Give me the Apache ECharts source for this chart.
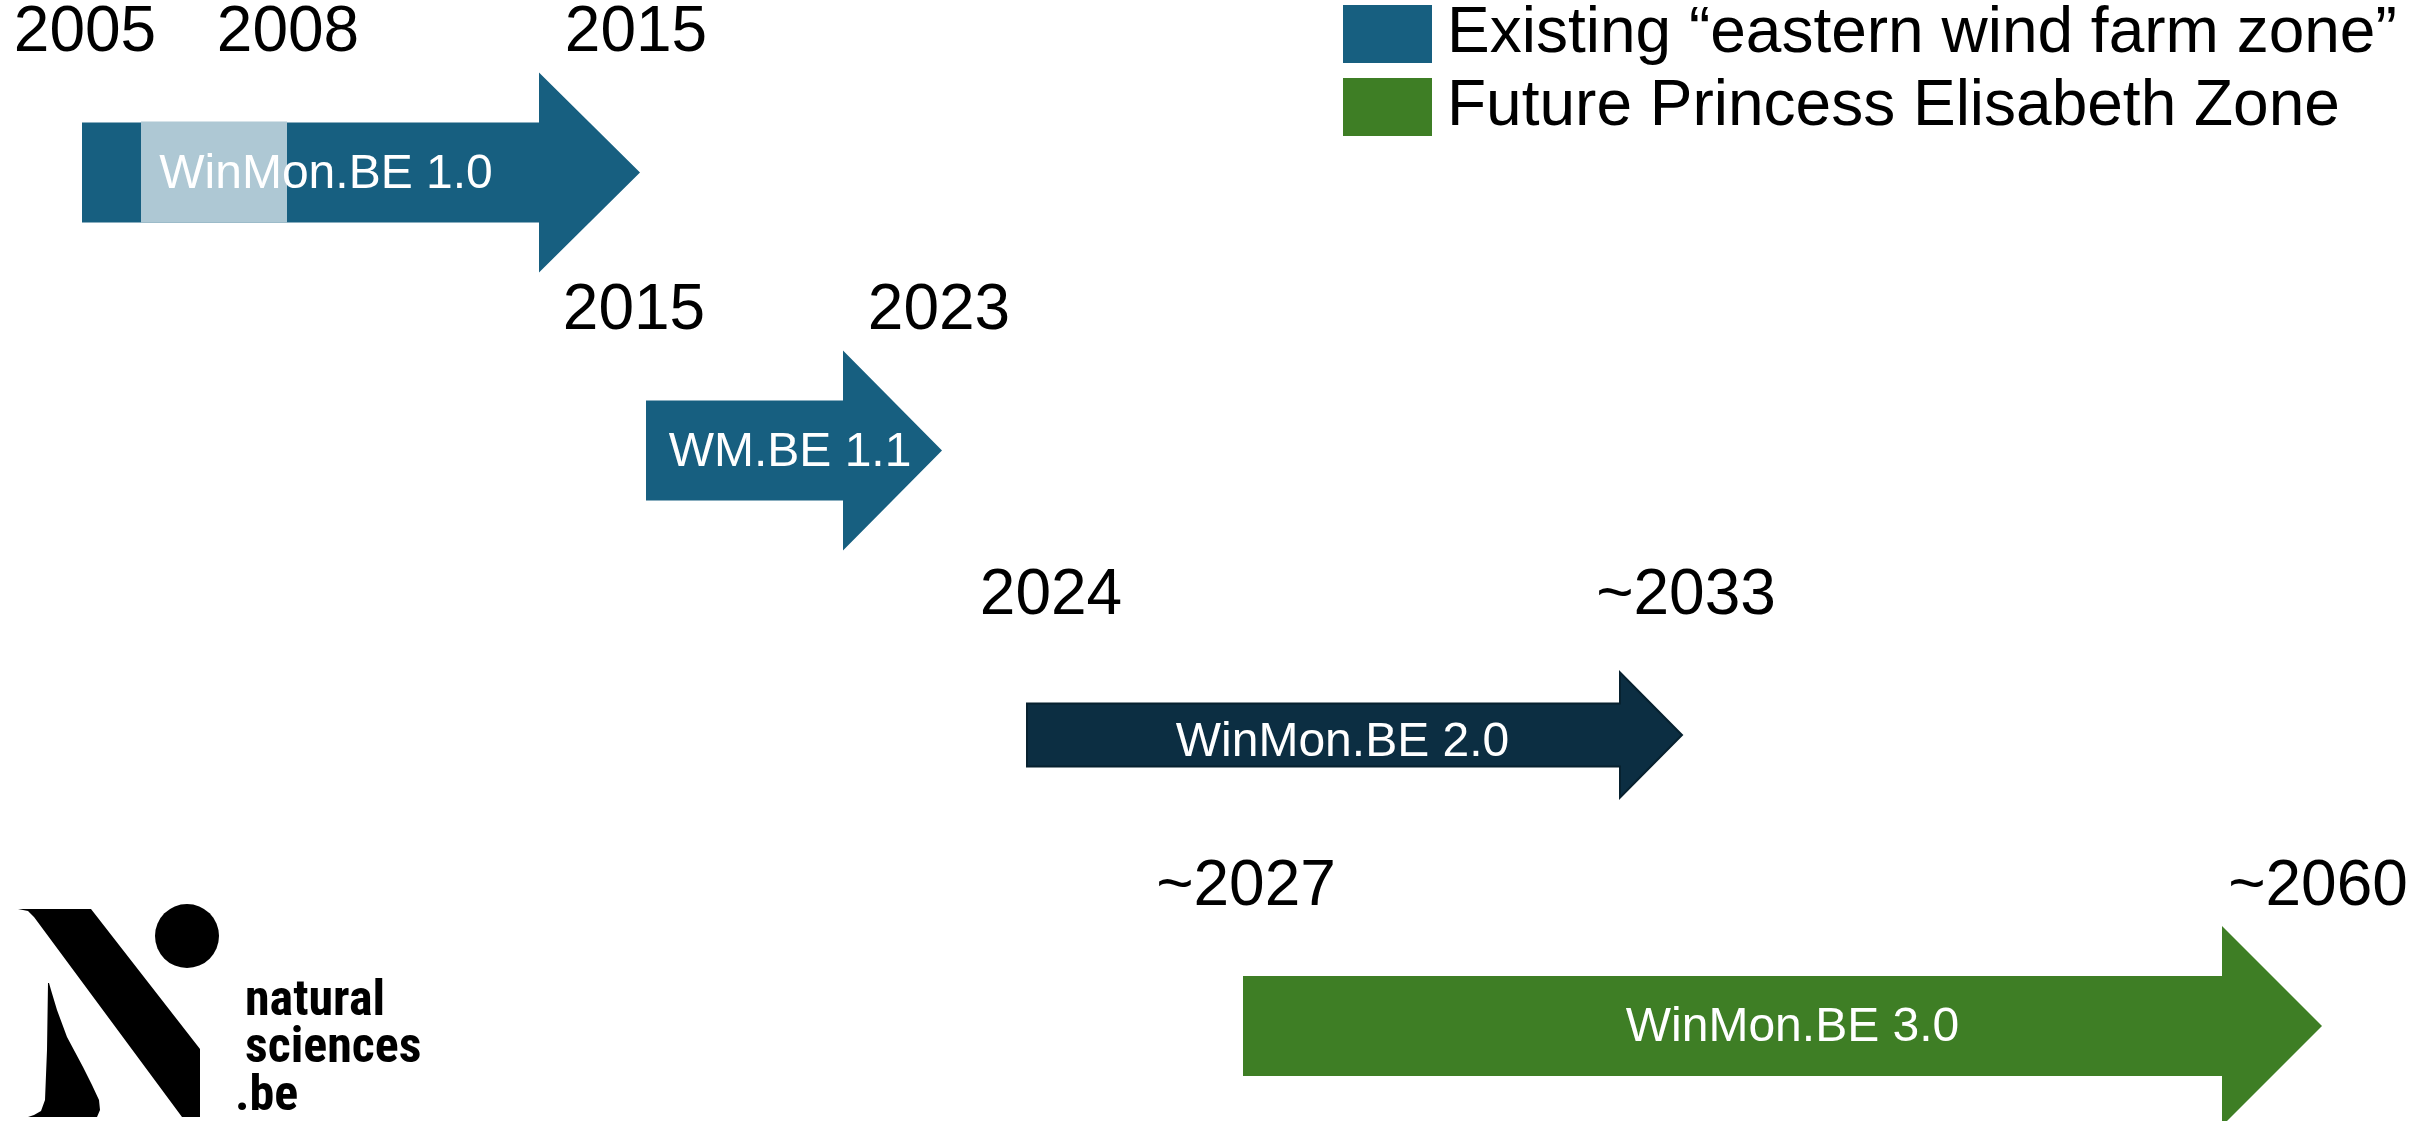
<!DOCTYPE html>
<html>
<head>
<meta charset="utf-8">
<title>WinMon.BE timeline</title>
<script src="https://cdn.jsdelivr.net/npm/echarts@6/dist/echarts.min.js"></script>
<style>
  html, body { margin: 0; padding: 0; background: #fff; }
  #timeline { width: 2433px; height: 1121px; }
</style>
</head>
<body>
<div id="timeline"></div>
<script>
// phases of the programme
var phaseNames = ['WinMon.BE 1.0', 'WM.BE 1.1', 'WinMon.BE 2.0', 'WinMon.BE 3.0'];
var startYears = ['2005', '2015', '2024', '~2027'];
var endYears = ['2015', '2023', '~2033', '~2060'];
var phaseZone = ['existing', 'existing', 'existing', 'future'];
// where each phase sits on the (not to scale) timeline, and its row
var startPos = [82, 646, 1027, 1243];
var endPos = [640, 942, 1682, 2322];
var rowPos = [172.5, 450.5, 735, 1026];
// pilot years inside the first phase
var pilotYear = '2008';
var pilotStart = 141;
var pilotEnd = 287;

var zoneNames = {
    existing: 'Existing “eastern wind farm zone”',
    future: 'Future Princess Elisabeth Zone'
};

// look
var arrowColors = ['#175f80', '#175f80', '#0c2e42', '#3e7e25'];
var zoneColors = { existing: '#175f80', future: '#3e7e25' };
var pilotColor = '#aec8d4';
var arrowShape = [
    { body: 50, head: 100, len: 101 },
    { body: 50, head: 100, len: 99 },
    { body: 31.5, head: 62.5, len: 62 },
    { body: 50, head: 100, len: 100 }
];
var labelShift = [-35, -4, -12, 10];
var labelDrop = [2, 2, 8, 2];
var startShift = [3, -12, 24, 3];
var endShift = [-4, -3, 4, -4];
var yearLift = 139;
var mainFont = '"Liberation Sans", Arial, sans-serif';
var logoFont = 'bold 50px "Liberation Sans Narrow", "Roboto Condensed", Roboto, sans-serif';

function yearText(txt, x, y) {
    return {
        type: 'text',
        style: {
            text: txt, x: x, y: y,
            align: 'center', verticalAlign: 'middle',
            fill: '#000', font: '64px ' + mainFont
        }
    };
}

function renderArrow(params, api) {
    var i = api.value(3);
    var s = arrowShape[i];
    var p0 = api.coord([api.value(0), api.value(2)]);
    var p1 = api.coord([api.value(1), api.value(2)]);
    var x0 = p0[0], x1 = p1[0], cy = p0[1];
    var xb = x1 - s.len;
    var pts = [
        [x0, cy - s.body], [xb, cy - s.body], [xb, cy - s.head], [x1, cy],
        [xb, cy + s.head], [xb, cy + s.body], [x0, cy + s.body]
    ];
    var kids = [{
        type: 'polygon',
        shape: { points: pts },
        style: {
            fill: arrowColors[i],
            stroke: i === 2 ? '#07212f' : null,
            lineWidth: i === 2 ? 2 : 0
        }
    }];
    if (i === 0) {
        var a = api.coord([pilotStart, 0])[0];
        var b = api.coord([pilotEnd, 0])[0];
        kids.push({
            type: 'rect',
            shape: { x: a, y: cy - s.body - 1, width: b - a, height: 2 * s.body + 1 },
            style: { fill: pilotColor }
        });
        kids.push(yearText(pilotYear, b + 1, cy - yearLift));
    }
    kids.push({
        type: 'text',
        style: {
            text: phaseNames[i],
            x: (x0 + x1) / 2 + labelShift[i], y: cy + labelDrop[i],
            align: 'center', verticalAlign: 'middle',
            fill: '#fff', font: '48px ' + mainFont
        }
    });
    kids.push(yearText(startYears[i], x0 + startShift[i], cy - yearLift));
    kids.push(yearText(endYears[i], x1 + endShift[i], cy - yearLift));
    return { type: 'group', children: kids };
}

function zoneData(zone) {
    var out = [];
    for (var i = 0; i < phaseNames.length; i++) {
        if (phaseZone[i] === zone) out.push([startPos[i], endPos[i], rowPos[i], i]);
    }
    return out;
}

var chart = echarts.init(document.getElementById('timeline'));

chart.setOption({
    backgroundColor: '#fff',
    animation: false,
    grid: { left: 0, right: 0, top: 0, bottom: 0 },
    xAxis: { type: 'value', min: 0, max: 2433, show: false },
    yAxis: { type: 'value', min: 0, max: 1121, inverse: true, show: false },
    legend: {
        data: [zoneNames.existing, zoneNames.future],
        orient: 'vertical',
        left: 1343,
        top: -1,
        padding: 0,
        icon: 'rect',
        itemWidth: 89,
        itemHeight: 58,
        itemGap: 3,
        selectedMode: false,
        textStyle: {
            fontSize: 64,
            fontFamily: mainFont,
            color: '#000',
            lineHeight: 44,
            padding: [26, 0, 0, 10]
        }
    },
    series: [
        {
            type: 'custom',
            name: zoneNames.existing,
            renderItem: renderArrow,
            itemStyle: { color: zoneColors.existing },
            encode: { x: [0, 1], y: 2 },
            clip: false,
            silent: true,
            data: zoneData('existing')
        },
        {
            type: 'custom',
            name: zoneNames.future,
            renderItem: renderArrow,
            itemStyle: { color: zoneColors.future },
            encode: { x: [0, 1], y: 2 },
            clip: false,
            silent: true,
            data: zoneData('future')
        }
    ],
    // institute logo, bottom left
    graphic: [
        {
            type: 'polygon',
            shape: { points: [[18, 909], [28, 911], [34, 917], [182, 1117], [200, 1117], [200, 1049], [91, 909]] },
            style: { fill: '#000' }
        },
        {
            type: 'polygon',
            shape: {
                points: [[48, 983], [47, 1050], [45, 1100], [41, 1111], [34, 1115], [28, 1117],
                    [97, 1117], [100, 1110], [99, 1100], [92, 1085], [83, 1067], [67, 1037],
                    [57, 1010], [51, 990], [49, 983]]
            },
            style: { fill: '#000' }
        },
        { type: 'circle', shape: { cx: 187, cy: 936, r: 32 }, style: { fill: '#000' } },
        {
            type: 'text',
            style: { text: 'natural', x: 245, y: 1002, verticalAlign: 'middle', fill: '#000', font: logoFont }
        },
        {
            type: 'text',
            style: { text: 'sciences', x: 245, y: 1049, verticalAlign: 'middle', fill: '#000', font: logoFont }
        },
        {
            type: 'text',
            style: { text: '.be', x: 235, y: 1097, verticalAlign: 'middle', fill: '#000', font: logoFont }
        }
    ]
});
</script>
</body>
</html>
